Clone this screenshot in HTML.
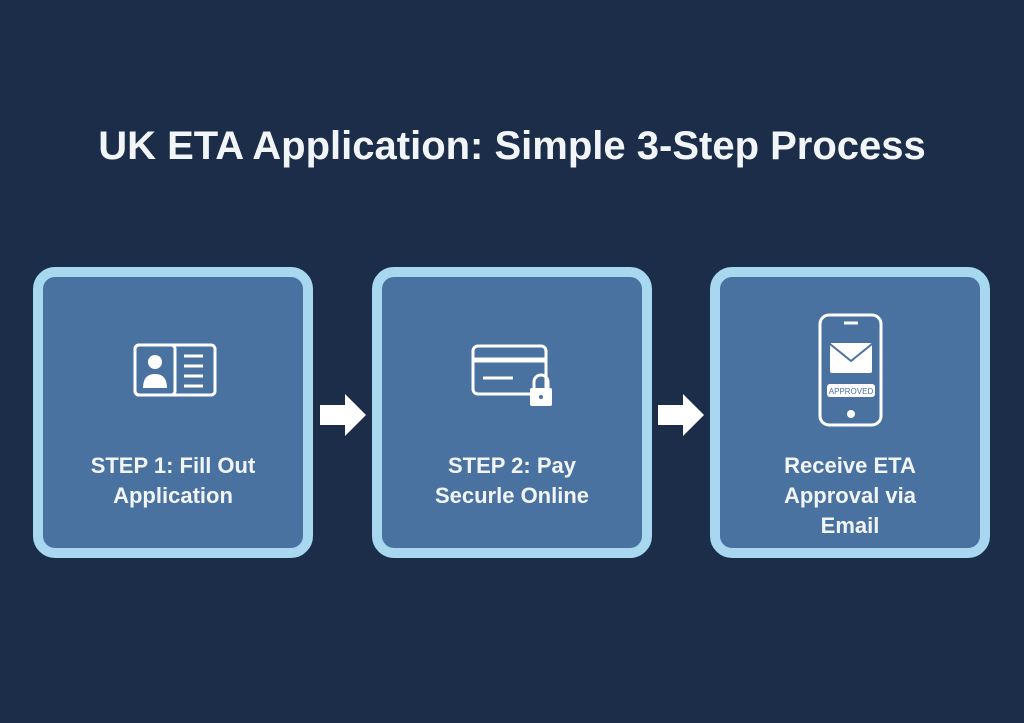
<!DOCTYPE html>
<html><head><meta charset="utf-8"><style>
body{margin:0;width:1024px;height:723px;background:#1b2d48;font-family:"Liberation Sans",sans-serif;position:relative;overflow:hidden}
.t{position:absolute;top:124px;left:0;width:1024px;text-align:center;color:#f2f5f8;font-size:40px;font-weight:bold}
.b{position:absolute;top:267px;width:260px;height:271px;border:10px solid #a8d8f0;border-radius:22px;background:#4a72a0}
.l{position:absolute;left:0;width:260px;top:174px;text-align:center;color:#f2f5f8;font-size:22px;font-weight:bold;line-height:30px}
.a{position:absolute;top:395px}
</style></head><body>
<div class="t">UK ETA Application: Simple 3-Step Process</div>
<div class="b" style="left:33px"><div class="l">STEP 1: Fill Out<br>Application</div></div>
<div class="b" style="left:372px"><div class="l">STEP 2: Pay<br>Securle Online</div></div>
<div class="b" style="left:710px"><div class="l">Receive ETA<br>Approval via<br>Email</div></div>
<svg width="1024" height="723" style="position:absolute;left:0;top:0">
<g fill="#fff"><polygon points="320,405 345,405 345,394 366,415 345,436 345,425 320,425"/>
<polygon points="658,405 683,405 683,394 704,415 683,436 683,425 658,425"/></g>
<g fill="none" stroke="#fff" stroke-width="3">
<rect x="135" y="345" width="80" height="50" rx="4"/><rect x="135" y="345" width="40" height="50" rx="4"/>
<line x1="184" y1="356" x2="203" y2="356"/><line x1="184" y1="366" x2="203" y2="366"/><line x1="184" y1="376" x2="203" y2="376"/><line x1="184" y1="386" x2="203" y2="386"/>
<rect x="473" y="346" width="73" height="48" rx="5"/><line x1="473" y1="360" x2="546" y2="360" stroke-width="5"/>
<line x1="483" y1="378" x2="513" y2="378"/>
<rect x="820" y="315" width="61" height="110" rx="9"/>
<line x1="844" y1="323" x2="858" y2="323"/>
</g>
<g fill="#fff"><circle cx="155" cy="362" r="7"/><path d="M143 388 q0-14 12-14 q12 0 12 14z"/>
<rect x="530" y="388" width="22" height="18" rx="2"/><path d="M534 388 v-6 a7 7 0 0 1 14 0 v6" fill="none" stroke="#fff" stroke-width="3"/>
<rect x="830" y="343" width="42" height="30" rx="2"/>
<rect x="827" y="384" width="48" height="13" rx="3"/><circle cx="851" cy="414" r="4"/></g>
<path d="M830 344 l21 17 l21 -17" fill="none" stroke="#4a72a0" stroke-width="2"/>
<circle cx="541" cy="397" r="2" fill="#4a72a0"/>
<text x="851" y="394" font-size="8" text-anchor="middle" fill="#4a72a0" font-family="Liberation Sans">APPROVED</text>
</svg>
</body></html>
